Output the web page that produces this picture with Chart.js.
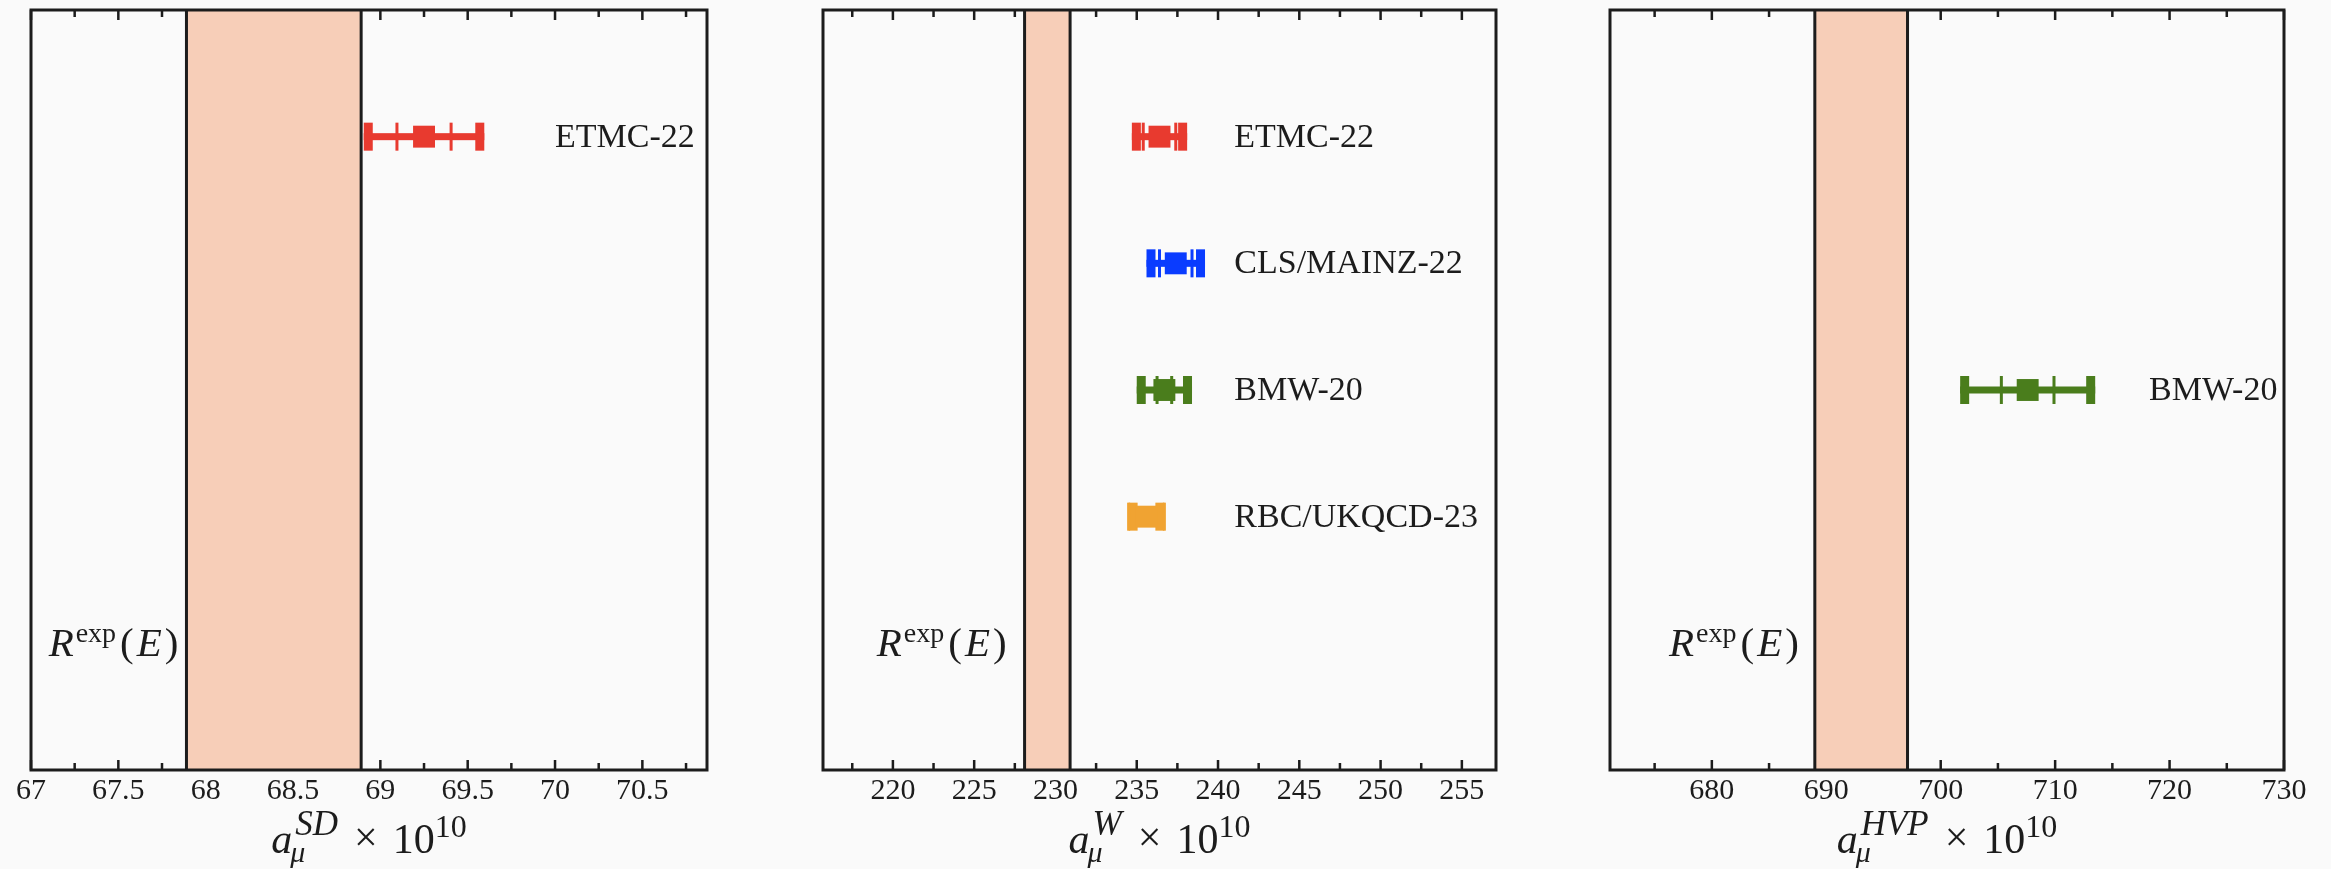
<!DOCTYPE html>
<html>
<head>
<meta charset="utf-8">
<script src="https://cdn.jsdelivr.net/npm/chart.js@4.4.0/dist/chart.umd.min.js"></script>
<style>
    html, body { margin: 0; padding: 0; background: #fafafa; }
    #wrap { position: relative; width: 2331px; height: 869px; }
    canvas { position: absolute; top: 0; }
</style>
</head>
<body>
<div id="wrap">
    <canvas id="c1" width="777" height="869" style="left:0px"></canvas>
    <canvas id="c2" width="777" height="869" style="left:777px"></canvas>
    <canvas id="c3" width="777" height="869" style="left:1554px"></canvas>
</div>
<script>
// collaborations, top row first
const groups = ['ETMC-22', 'CLS/MAINZ-22', 'BMW-20', 'RBC/UKQCD-23'];
const groupColors = ['#e83a2f', '#0a3cff', '#4a7d1c', '#f0a332'];

// short-distance window
const sdGroups = ['ETMC-22'];
const sdValue = [69.25];
const sdTotalErr = [0.345];
const sdStatErr = [0.155];
const sdBand = [67.89, 68.89];
const sdTicks = [67, 67.5, 68, 68.5, 69, 69.5, 70, 70.5];

// intermediate window
const wGroups = ['ETMC-22', 'CLS/MAINZ-22', 'BMW-20', 'RBC/UKQCD-23'];
const wValue = [236.4, 237.4, 236.7, 235.6];
const wTotalErr = [1.7, 1.8, 1.7, 1.1];
const wStatErr = [1.0, 1.0, 0.45, 1.1];
const wBand = [228.1, 230.9];
const wTicks = [220, 225, 230, 235, 240, 245, 250, 255];

// full HVP
const hvpGroups = ['BMW-20'];
const hvpValue = [707.6];
const hvpTotalErr = [5.9];
const hvpStatErr = [2.3];
const hvpBand = [689.0, 697.1];
const hvpTicks = [680, 690, 700, 710, 720, 730];

const serif = '"Liberation Serif", "DejaVu Serif", serif';
const ink = '#1c1c1c';
const bandColor = '#f7ceb8';

// row of a collaboration on the y scale (R^exp label sits on row 1)
const rowOf = g => 5 - groups.indexOf(g);

function drawTitle(ctx, cx, base, sup) {
    const bigI = `italic 42px ${serif}`, big = `42px ${serif}`;
    const smallI = `italic 35px ${serif}`, small = `32px ${serif}`, subI = `italic 30px ${serif}`;
    ctx.font = bigI; const wa = ctx.measureText('a').width;
    ctx.font = smallI; const wsup = ctx.measureText(sup).width;
    ctx.font = subI; const wmu = ctx.measureText('μ').width;
    ctx.font = big; const wx = ctx.measureText('×').width; const w10 = ctx.measureText('10').width;
    ctx.font = small; const we = ctx.measureText('10').width;
    const ws = Math.max(wsup + 3, wmu);
    const total = wa + ws + 16 + wx + 15 + w10 + we;
    let x = cx - total / 2;
    ctx.textAlign = 'left';
    ctx.textBaseline = 'alphabetic';
    ctx.font = bigI; ctx.fillText('a', x, base);
    x += wa;
    ctx.font = smallI; ctx.fillText(sup, x + 3, base - 18);
    ctx.font = subI; ctx.fillText('μ', x - 2, base + 9);
    x += ws + 16;
    ctx.font = big; ctx.fillText('×', x, base - 2);
    x += wx + 15;
    ctx.fillText('10', x, base);
    x += w10;
    ctx.font = small; ctx.fillText('10', x, base - 16);
}

function drawRexp(ctx, right, yc) {
    const bigI = `italic 41px ${serif}`, big = `41px ${serif}`, small = `28px ${serif}`;
    const pieces = [
        ['R', bigI, 0, 2], ['exp', small, -14, 4], ['(', big, 0, 3],
        ['E', bigI, 0, 3], [')', big, 0, 0]
    ];
    let total = 0;
    pieces.forEach(p => { ctx.font = p[1]; total += ctx.measureText(p[0]).width + p[3]; });
    let x = right - total;
    const base = yc + 13;
    ctx.textAlign = 'left';
    ctx.textBaseline = 'alphabetic';
    pieces.forEach(p => {
        ctx.font = p[1];
        ctx.fillText(p[0], x, base + p[2]);
        x += ctx.measureText(p[0]).width + p[3];
    });
}

function panelPlugin(cfg) {
    return {
        id: 'panel',
        beforeDraw(chart) {
            const ctx = chart.ctx;
            ctx.save();
            ctx.fillStyle = '#fafafa';
            ctx.fillRect(0, 0, chart.width, chart.height);
            ctx.restore();
        },
        beforeDatasetsDraw(chart) {
            const { ctx, chartArea: a, scales: { x, y } } = chart;
            ctx.save();

            // inward tick marks, bottom and top
            const step = cfg.ticks[1] - cfg.ticks[0];
            const minor = [cfg.ticks[0] - step / 2].concat(cfg.ticks.map(v => v + step / 2))
                .filter(v => v > x.min && v < x.max);
            ctx.strokeStyle = ink;
            ctx.lineWidth = 2.5;
            const mark = (v, len) => {
                const px = x.getPixelForValue(v);
                ctx.beginPath();
                ctx.moveTo(px, a.bottom); ctx.lineTo(px, a.bottom - len);
                ctx.moveTo(px, a.top); ctx.lineTo(px, a.top + len);
                ctx.stroke();
            };
            cfg.ticks.forEach(v => mark(v, 10));
            minor.forEach(v => mark(v, 7));

            // experimental band
            const b0 = x.getPixelForValue(cfg.band[0]);
            const b1 = x.getPixelForValue(cfg.band[1]);
            ctx.fillStyle = bandColor;
            ctx.fillRect(b0, a.top, b1 - b0, a.bottom - a.top);
            ctx.lineWidth = 3;
            ctx.beginPath();
            ctx.moveTo(b0, a.top); ctx.lineTo(b0, a.bottom);
            ctx.moveTo(b1, a.top); ctx.lineTo(b1, a.bottom);
            ctx.stroke();

            // error bars
            cfg.groups.forEach((g, i) => {
                const yp = y.getPixelForValue(rowOf(g));
                const lo = x.getPixelForValue(cfg.value[i] - cfg.total[i]);
                const hi = x.getPixelForValue(cfg.value[i] + cfg.total[i]);
                const s0 = x.getPixelForValue(cfg.value[i] - cfg.stat[i]);
                const s1 = x.getPixelForValue(cfg.value[i] + cfg.stat[i]);
                ctx.fillStyle = groupColors[groups.indexOf(g)];
                ctx.fillRect(lo, yp - 3.5, hi - lo, 7);
                ctx.fillRect(lo, yp - 14, 9, 28);
                ctx.fillRect(hi - 9, yp - 14, 9, 28);
                ctx.fillRect(s0 - 1.5, yp - 14, 3, 28);
                ctx.fillRect(s1 - 1.5, yp - 14, 3, 28);
            });
            ctx.restore();
        },
        afterDraw(chart) {
            const { ctx, chartArea: a, scales: { x, y } } = chart;
            ctx.save();
            ctx.fillStyle = ink;

            // collaboration names
            ctx.font = `34px ${serif}`;
            ctx.textAlign = 'left';
            ctx.textBaseline = 'middle';
            cfg.groups.forEach(g => {
                ctx.fillText(g, x.getPixelForValue(cfg.labelX), y.getPixelForValue(rowOf(g)) + 1);
            });

            drawRexp(ctx, x.getPixelForValue(cfg.band[0]) - cfg.rexpGap, y.getPixelForValue(1));
            drawTitle(ctx, (a.left + a.right) / 2, 853, cfg.sup);

            // frame
            ctx.strokeStyle = ink;
            ctx.lineWidth = 3;
            ctx.strokeRect(a.left, a.top, a.right - a.left, a.bottom - a.top);
            ctx.restore();
        }
    };
}

function makePanel(id, cfg) {
    return new Chart(document.getElementById(id), {
        type: 'scatter',
        data: {
            datasets: [{
                data: cfg.groups.map((g, i) => ({ x: cfg.value[i], y: rowOf(g) })),
                pointStyle: 'rect',
                pointRadius: 15.5,
                pointHoverRadius: 15.5,
                backgroundColor: cfg.groups.map(g => groupColors[groups.indexOf(g)]),
                borderWidth: 0
            }]
        },
        options: {
            responsive: false,
            animation: false,
            devicePixelRatio: 1,
            layout: { autoPadding: false, padding: { left: cfg.padL, right: cfg.padR, top: 10, bottom: 0 } },
            plugins: { legend: { display: false }, tooltip: { enabled: false } },
            scales: {
                x: {
                    type: 'linear',
                    min: cfg.min,
                    max: cfg.max,
                    afterBuildTicks: s => { s.ticks = cfg.ticks.map(v => ({ value: v })); },
                    afterFit: s => { s.height = 99; },
                    grid: { display: false, drawTicks: false },
                    border: { display: false },
                    ticks: {
                        font: { family: serif, size: 30 },
                        color: ink,
                        padding: 3,
                        maxRotation: 0,
                        autoSkip: false,
                        callback: v => String(v)
                    }
                },
                y: { type: 'linear', min: 0, max: 6, display: false }
            }
        },
        plugins: [panelPlugin(cfg)]
    });
}

makePanel('c1', {
    groups: sdGroups, value: sdValue, total: sdTotalErr, stat: sdStatErr,
    band: sdBand, ticks: sdTicks, min: 67, max: 70.87, labelX: 70.0,
    sup: 'SD', padL: 31, padR: 70, rexpGap: 8
});
makePanel('c2', {
    groups: wGroups, value: wValue, total: wTotalErr, stat: wStatErr,
    band: wBand, ticks: wTicks, min: 215.7, max: 257.1, labelX: 241.0,
    sup: 'W', padL: 46, padR: 58, rexpGap: 18
});
makePanel('c3', {
    groups: hvpGroups, value: hvpValue, total: hvpTotalErr, stat: hvpStatErr,
    band: hvpBand, ticks: hvpTicks, min: 671.1, max: 730, labelX: 718.2,
    sup: 'HVP', padL: 56, padR: 47, rexpGap: 16
});
</script>
</body>
</html>
